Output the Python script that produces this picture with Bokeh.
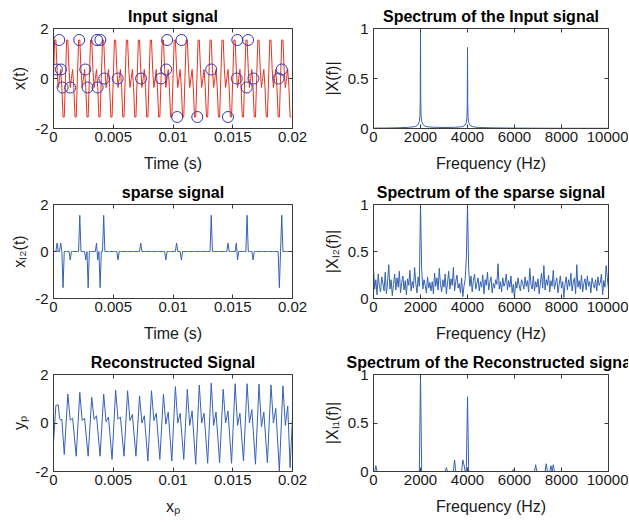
import numpy as np
from bokeh.plotting import figure
from bokeh.layouts import column, row
from bokeh.models import LinearAxis, FixedTicker, Range1d
from bokeh.embed import file_html
from bokeh.resources import INLINE

# ---------------- data ----------------
sample_step = 0.0001          # s, sampling interval of the time signals
n_samples = 200
input_period = [0.0, 1.54, 1.54, 0.36, -0.36, 0.0, 0.36, -0.36, -1.54, -1.54]
n_periods = 20

circle_t = [0.00028, 0.00048, 0.00062, 0.00076, 0.0014, 0.00215, 0.00266, 0.00285,
            0.00364, 0.00369, 0.00392, 0.00425, 0.00537, 0.00733, 0.009, 0.00943,
            0.00951, 0.01035, 0.01071, 0.01203, 0.0132, 0.0146, 0.01533, 0.01538,
            0.01617, 0.01628, 0.01673, 0.01883, 0.0191]
circle_v = [0.36, 1.54, 0.36, -0.36, -0.36, 1.54, 0.36, -0.36,
            1.54, -0.36, 1.54, 0.0, 0.0, 0.0, 0.0, 0.36,
            1.54, -1.54, 1.54, -1.54, 0.36, -1.54, 0.0, 1.54,
            -0.36, 1.54, 0.0, 0.0, 0.36]

sparse_t = [0.0003, 0.0006, 0.0008, 0.0014, 0.0022, 0.0027, 0.0029, 0.0036, 0.0037,
            0.0039, 0.0042, 0.0054, 0.0073, 0.0094, 0.0103, 0.0107, 0.0132, 0.0146,
            0.0153, 0.0154, 0.0162, 0.0167, 0.0189, 0.0191]
sparse_v = [0.36, 0.36, -1.54, -0.36, 1.54, -0.36, -1.54, 0.36, -0.36,
            -1.54, 1.54, -0.36, 0.36, -0.36, 0.36, -0.36, 1.54, 0.36,
            0.36, -0.36, 1.54, -0.36, -1.54, 1.54]

spec_in_f = [0, 500, 1000, 1500, 1700, 1800, 1900, 1950, 1975, 1990, 2000, 2010, 2025, 2050,
             2100, 2200, 2300, 2500, 3000, 3500, 3700, 3800, 3900, 3950, 3975, 3990, 4000,
             4010, 4025, 4050, 4100, 4200, 4300, 4500, 5000, 6000, 7000, 8000, 9000, 10000]
spec_in_v = [0.004, 0.005, 0.007, 0.012, 0.017, 0.022, 0.04, 0.07, 0.13, 0.3, 1.0, 0.3, 0.13, 0.07,
             0.04, 0.022, 0.017, 0.013, 0.01, 0.012, 0.016, 0.02, 0.035, 0.06, 0.11, 0.25, 0.81,
             0.25, 0.11, 0.06, 0.035, 0.02, 0.015, 0.01, 0.007, 0.004, 0.003, 0.002, 0.002, 0.002]

freq_step = 50
spec_sparse_v = [
    0.32, 0.10, 0.20, 0.04, 0.26, 0.13, 0.07, 0.23, 0.16, 0.08,
    0.28, 0.05, 0.18, 0.36, 0.10, 0.20, 0.03, 0.15, 0.26, 0.09,
    0.22, 0.12, 0.29, 0.06, 0.17, 0.24, 0.09, 0.19, 0.04, 0.21,
    0.14, 0.30, 0.08, 0.18, 0.11, 0.33, 0.16, 0.06, 0.23, 0.13,
    1.00,
    0.30, 0.10, 0.20, 0.14, 0.06, 0.23, 0.11, 0.17, 0.08,
    0.18, 0.05, 0.27, 0.13, 0.22, 0.09, 0.32, 0.15, 0.07, 0.20,
    0.12, 0.26, 0.05, 0.17, 0.29, 0.10, 0.21, 0.14, 0.33, 0.08,
    0.18, 0.25, 0.11, 0.16, 0.06, 0.22, 0.02, 0.13, 0.20, 0.43,
    1.00,
    0.31, 0.13, 0.24, 0.07, 0.19, 0.26, 0.10, 0.16, 0.22,
    0.08, 0.18, 0.12, 0.25, 0.05, 0.20, 0.14, 0.28, 0.09, 0.17,
    0.23, 0.06, 0.16, 0.11, 0.20, 0.15, 0.37, 0.10, 0.18, 0.07,
    0.22, 0.13, 0.17, 0.26, 0.09, 0.19, 0.12, 0.24, 0.06, 0.15,
    0.01, 0.18, 0.11, 0.22, 0.14, 0.08, 0.20, 0.16, 0.10, 0.23,
    0.13, 0.19, 0.07, 0.32, 0.15, 0.10, 0.24, 0.08, 0.18, 0.12,
    0.21, 0.05, 0.16, 0.27, 0.11, 0.35, 0.09, 0.20, 0.14, 0.25,
    0.07, 0.19, 0.13, 0.30, 0.10, 0.17, 0.22, 0.06, 0.15, 0.24,
    0.11, 0.18, 0.01, 0.16, 0.23, 0.09, 0.20, 0.13, 0.27, 0.08,
    0.17, 0.22, 0.05, 0.36, 0.12, 0.19, 0.10, 0.25, 0.07, 0.16,
    0.21, 0.09, 0.24, 0.13, 0.18, 0.06, 0.22, 0.15, 0.11, 0.20,
    0.08, 0.23, 0.14, 0.17, 0.26, 0.04, 0.19, 0.12, 0.35, 0.22,
    0.10]

spec_rec_f = [100, 2000, 3100, 3450, 3800, 3850, 4000, 5950, 6900, 7350, 7550, 7650]
spec_rec_v = [0.06, 1.0, 0.04, 0.12, 0.12, 0.07, 0.77, 0.02, 0.07, 0.08, 0.06, 0.07]

recon_t = [0.0000, 0.0002, 0.0004, 0.0005, 0.0006, 0.0007, 0.0009,
           0.0012, 0.0014, 0.0016, 0.0019,
           0.0022, 0.0024, 0.0026, 0.0029,
           0.0032, 0.0034, 0.0036, 0.0039,
           0.0042, 0.0044, 0.0046, 0.0049,
           0.0052, 0.0054, 0.0056, 0.0059,
           0.0062, 0.0064, 0.0066, 0.0069,
           0.0072, 0.0074, 0.0076, 0.0079,
           0.0082, 0.0084, 0.0086, 0.0089,
           0.0092, 0.0094, 0.0096, 0.0099,
           0.0102, 0.0104, 0.0106, 0.0109,
           0.0112, 0.0114, 0.0116, 0.0119,
           0.0122, 0.0124, 0.0126, 0.0129,
           0.0132, 0.0134, 0.0136, 0.0139,
           0.0142, 0.0144, 0.0146, 0.0149,
           0.0152, 0.0154, 0.0156, 0.0159,
           0.0162, 0.0164, 0.0166, 0.0169,
           0.0172, 0.0174, 0.0176, 0.0179,
           0.0182, 0.0184, 0.0186, 0.0189,
           0.0192, 0.0194, 0.0196, 0.0198,
           0.0200]
recon_v = [-0.8, 0.72, 0.75, 0.2, 0.12, 0.15, -1.3,
           1.19, 0.12, 0.2, -1.37,
           1.26, 0.1, 0.2, -1.37,
           1.06, 0.15, 0.3, -1.37,
           1.19, 0.05, 0.25, -1.5,
           1.35, 0.15, 0.25, -1.37,
           1.33, 0.1, 0.35, -1.37,
           1.12, 0.0, 0.3, -1.57,
           1.33, 0.1, 0.4, -1.5,
           1.19, -0.05, 0.45, -1.57,
           1.5, 0.0, 0.4, -1.5,
           1.39, -0.1, 0.5, -1.7,
           1.57, 0.0, 0.4, -1.66,
           1.64, -0.1, 0.45, -1.64,
           1.39, 0.0, 0.5, -1.66,
           1.62, -0.1, 0.4, -1.57,
           1.62, 0.0, 0.55, -1.7,
           1.6, -0.15, 0.45, -1.64,
           1.57, 0.0, 0.6, -1.98,
           1.53, -0.1, 0.7, -1.84,
           0.25]

time_ticks = [0, 0.005, 0.01, 0.015, 0.02]
time_labels = ["0", "0.005", "0.01", "0.015", "0.02"]
amp_ticks = [-2, 0, 2]
amp_labels = ["-2", "0", "2"]
freq_ticks = [0, 2000, 4000, 6000, 8000, 10000]
freq_labels = ["0", "2000", "4000", "6000", "8000", "10000"]
mag_ticks = [0, 0.5, 1]
mag_labels = ["0", "0.5", "1"]

# ---------------- derived series ----------------
t_axis = np.arange(n_samples) * sample_step
x_input = np.tile(input_period, n_periods)
x_sparse = np.zeros(n_samples)
for tt, vv in zip(sparse_t, sparse_v):
    x_sparse[int(round(tt / sample_step))] = vv
f_axis = np.arange(len(spec_sparse_v)) * freq_step
x_rec_spec = np.zeros(len(f_axis))
for ff, vv in zip(spec_rec_f, spec_rec_v):
    x_rec_spec[int(round(ff / freq_step))] = vv

# ---------------- styling ----------------
FONT = "Liberation Sans"
AX = "#3a3a3a"
TXT = "#1a1a1a"
RED = "#e8321e"
CIRC = "#3434b4"
BLUE = "#3562b2"


def add_axis(p, place, ticks, labels=None, axis_label=None):
    ax = LinearAxis(ticker=FixedTicker(ticks=ticks))
    ax.major_tick_in = 4
    ax.major_tick_out = 0
    ax.minor_tick_line_color = None
    ax.axis_line_color = AX
    ax.major_tick_line_color = AX
    if labels is None:
        ax.major_label_overrides = {t: "" for t in ticks}
        ax.major_label_text_font_size = "0px"
        ax.major_label_standoff = 0
    else:
        ax.major_label_overrides = dict(zip(ticks, labels))
        ax.major_label_text_font = FONT
        ax.major_label_text_font_size = "15px"
        ax.major_label_text_color = TXT
        ax.major_label_standoff = 5 if place == "left" else 3
    if axis_label:
        ax.axis_label = axis_label
        ax.axis_label_text_font = FONT
        ax.axis_label_text_font_size = "16px"
        ax.axis_label_text_font_style = "normal"
        ax.axis_label_text_color = TXT
        ax.axis_label_standoff = 4 if place == "left" else 10
    p.add_layout(ax, place)


def make(title, xlabel, ylabel, xr, yr, xt, xl, yt, yl, width, height, bl, br, bt, bb):
    p = figure(width=width, height=height, x_range=Range1d(*xr), y_range=Range1d(*yr),
               output_backend="svg", toolbar_location=None,
               x_axis_type=None, y_axis_type=None,
               min_border_left=bl, min_border_right=br, min_border_top=bt, min_border_bottom=bb,
               title=title)
    p.outline_line_color = None
    p.background_fill_color = "white"
    p.border_fill_color = "white"
    p.title.align = "center"
    p.title.text_font = FONT
    p.title.text_font_size = "16px"
    p.title.text_font_style = "bold"
    p.title.text_color = "black"
    p.title.standoff = 7
    add_axis(p, "below", xt, xl, xlabel)
    add_axis(p, "left", yt, yl, ylabel)
    add_axis(p, "above", xt)
    add_axis(p, "right", yt)
    return p


FW = 239
LW, RW = 320, 308
LBL, LBR = 53, LW - 53 - FW
RBL, RBR = 49, RW - 49 - FW

p1 = make("Input signal", "Time (s)", "x(t)", (0, 0.02), (-2, 2),
          time_ticks, time_labels, amp_ticks, amp_labels, LW, 178, LBL, LBR, 28, 50)
p1.line(t_axis, x_input, color=RED, line_width=1)
p1.scatter(circle_t, circle_v, marker="circle", size=11, fill_color=None,
           line_color=CIRC, line_width=1)

p2 = make("Spectrum of the Input signal", "Frequency (Hz)", "|X(f)|", (0, 10000), (0, 1),
          freq_ticks, freq_labels, mag_ticks, mag_labels, RW, 178, RBL, RBR, 28, 50)
p2.line(spec_in_f, spec_in_v, color=BLUE, line_width=1)

p3 = make("sparse signal", "Time (s)", "xₗ₂(t)", (0, 0.02), (-2, 2),
          time_ticks, time_labels, amp_ticks, amp_labels, LW, 170, LBL, LBR, 23, 50)
p3.line(t_axis, x_sparse, color=BLUE, line_width=1)

p4 = make("Spectrum of the sparse signal", "Frequency (Hz)", "|Xₗ₂(f)|", (0, 10000), (0, 1),
          freq_ticks, freq_labels, mag_ticks, mag_labels, RW, 170, RBL, RBR, 23, 50)
p4.line(f_axis, spec_sparse_v, color=BLUE, line_width=1)

p5 = make("Reconstructed Signal", "xₚ", "yₚ", (0, 0.02), (-2, 2),
          time_ticks, time_labels, amp_ticks, amp_labels, LW, 173, LBL, LBR, 23, 50)
p5.line(recon_t, recon_v, color=BLUE, line_width=1)

p6 = make("Spectrum of the Reconstructed signal", "Frequency (Hz)", "|Xₗ₁(f)|", (0, 10000), (0, 1),
          freq_ticks, freq_labels, mag_ticks, mag_labels, RW, 173, RBL, RBR, 23, 50)
p6.line(f_axis, x_rec_spec, color=BLUE, line_width=1)

layout = column(row(p1, p2), row(p3, p4), row(p5, p6))
open("out.html", "w").write(file_html(layout, INLINE))
